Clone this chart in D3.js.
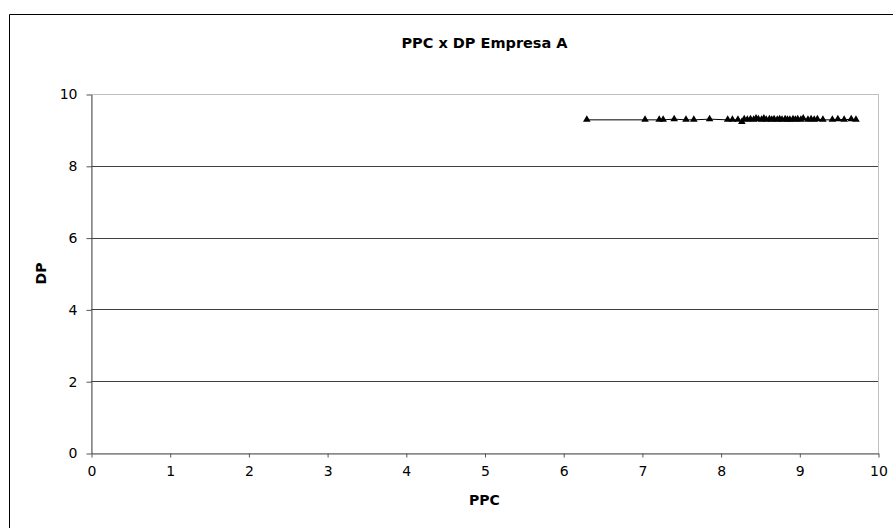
<!DOCTYPE html>
<html><head><meta charset="utf-8">
<script src="https://cdn.jsdelivr.net/npm/d3@7"></script>
<style>body{margin:0;background:#fff;}svg{display:block;font-family:"DejaVu Sans",Verdana,sans-serif;}</style>
</head><body>
<svg id="c" width="893" height="528"></svg>
<script>
const title = "PPC x DP Empresa A";
const xLabel = "PPC";
const yLabel = "DP";
const xTicks = [0,1,2,3,4,5,6,7,8,9,10];
const yTicks = [0,2,4,6,8,10];
const ppc = [6.30,7.04,7.22,7.27,7.41,7.56,7.66,7.86,8.09,8.15,8.22,8.27,8.30,8.34,8.38,8.42,8.45,8.48,8.52,8.55,8.58,8.62,8.65,8.68,8.72,8.75,8.78,8.82,8.85,8.88,8.92,8.95,8.98,9.02,9.05,9.11,9.15,9.19,9.23,9.30,9.42,9.49,9.57,9.66,9.72];
const dp  = [9.28,9.28,9.28,9.28,9.30,9.28,9.28,9.30,9.28,9.28,9.28,9.22,9.30,9.28,9.30,9.28,9.32,9.30,9.28,9.32,9.28,9.30,9.28,9.30,9.28,9.30,9.28,9.30,9.28,9.28,9.30,9.28,9.30,9.28,9.32,9.28,9.30,9.28,9.30,9.28,9.28,9.30,9.28,9.30,9.28];

const svg = d3.select("#c");
const L=91,R=878,T=94,B=453;
const x = d3.scaleLinear().domain([0,10]).range([L,R]);
const y = d3.scaleLinear().domain([0,10]).range([B,T]);

svg.append("path").attr("d","M9.5,600 L9.5,14.5 L900,14.5").attr("fill","none").attr("stroke","#000").attr("stroke-width",1);

svg.append("rect").attr("x",L+0.5).attr("y",T+0.5).attr("width",R-L).attr("height",B-T)
  .attr("fill","none").attr("stroke","#c0c0c0");

svg.append("g").selectAll("line").data(yTicks.filter(d=>d>0&&d<10)).join("line")
  .attr("x1",L).attr("x2",R).attr("y1",d=>Math.round(y(d))+0.5).attr("y2",d=>Math.round(y(d))+0.5)
  .attr("stroke","#404040").attr("stroke-width",1);

const xa = svg.append("g").attr("transform",`translate(0.5,${B+0.5})`)
  .call(d3.axisBottom(x).tickValues(xTicks).tickSize(4).tickSizeOuter(0).tickPadding(9));
const ya = svg.append("g").attr("transform",`translate(${L+0.5},0.5)`)
  .call(d3.axisLeft(y).tickValues(yTicks).tickSize(5).tickSizeOuter(0).tickPadding(9));
[xa,ya].forEach(a=>{
  a.select(".domain").attr("stroke","#555");
  a.selectAll(".tick line").attr("stroke","#555");
  a.selectAll("text").attr("font-size","14px").attr("fill","#000").attr("font-family","DejaVu Sans, Verdana, sans-serif");
});

const pts = ppc.map((v,i)=>({x:v,y:dp[i]}));
svg.append("path").datum(pts)
  .attr("d",d3.line().x(d=>x(d.x)).y(d=>y(d.y)))
  .attr("fill","none").attr("stroke","#000").attr("stroke-width",1);

svg.append("g").selectAll("path").data(pts).join("path")
  .attr("transform",d=>`translate(${x(d.x)},${y(d.y) - 1})`)
  .attr("d","M0,-3.5 L3.8,3 L-3.8,3 Z").attr("fill","#000");

svg.append("text").attr("x",(L+R)/2).attr("y",48).attr("text-anchor","middle")
  .attr("font-size","14.5px").attr("font-weight","bold").text(title);
svg.append("text").attr("x",(L+R)/2).attr("y",505).attr("text-anchor","middle")
  .attr("font-size","14px").attr("font-weight","bold").text(xLabel);
svg.append("text").attr("transform",`translate(46,${(T+B)/2}) rotate(-90)`).attr("text-anchor","middle")
  .attr("font-size","14px").attr("font-weight","bold").text(yLabel);
</script>
</body></html>
